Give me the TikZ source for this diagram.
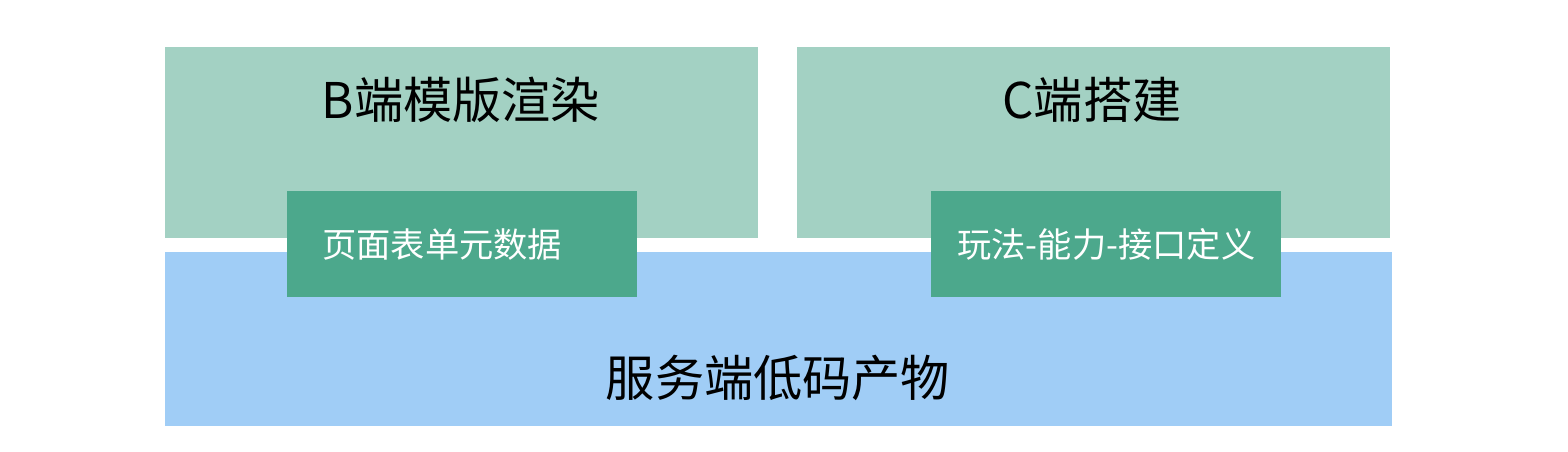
\documentclass[tikz,border=0pt]{standalone}
\usepackage{fontspec}
\setmainfont{Noto Sans CJK SC}
\usetikzlibrary{positioning}
\definecolor{panegreen}{HTML}{A3D1C3}
\definecolor{cardgreen}{HTML}{4CA88C}
\definecolor{baseblue}{HTML}{A0CDF6}

\begin{document}
\begin{tikzpicture}[
    x=0.02cm, y=-0.02cm,
    pane/.style={fill=panegreen, minimum width=11.86cm, minimum height=3.82cm, anchor=north west, inner sep=0pt},
    base/.style={fill=baseblue, minimum width=24.54cm, minimum height=3.48cm, anchor=north west, inner sep=0pt},
    card/.style={fill=cardgreen, minimum width=7cm, minimum height=2.12cm, anchor=north west, font=\fontsize{19.5}{23}\selectfont, text=white},
    title/.style={font=\fontsize{28}{34}\selectfont, inner sep=0pt},
]
\useasboundingbox[fill=white] (0,0) rectangle (1568,452);

% top panes
\node[pane] (bpane) at (165,47) {};
\node[pane] (cpane) at (797,47) {};
\node[title] (btitle) at (461,100) {B端模版渲染};
\node[title] (ctitle) at (1092,100) {C端搭建};

% base layer
\node[base] (base) at (165,252) {};
\node[title] (basetitle) at (778,378) {服务端低码产物};

% cards across the seam
\node[card, text width=5.6cm, inner xsep=0.7cm, align=left] (pagedata) at (287,191) {页面表单元数据};
\node[card, align=center] (apidef) at (931,191) {玩法-能力-接口定义};
\end{tikzpicture}
\end{document}
